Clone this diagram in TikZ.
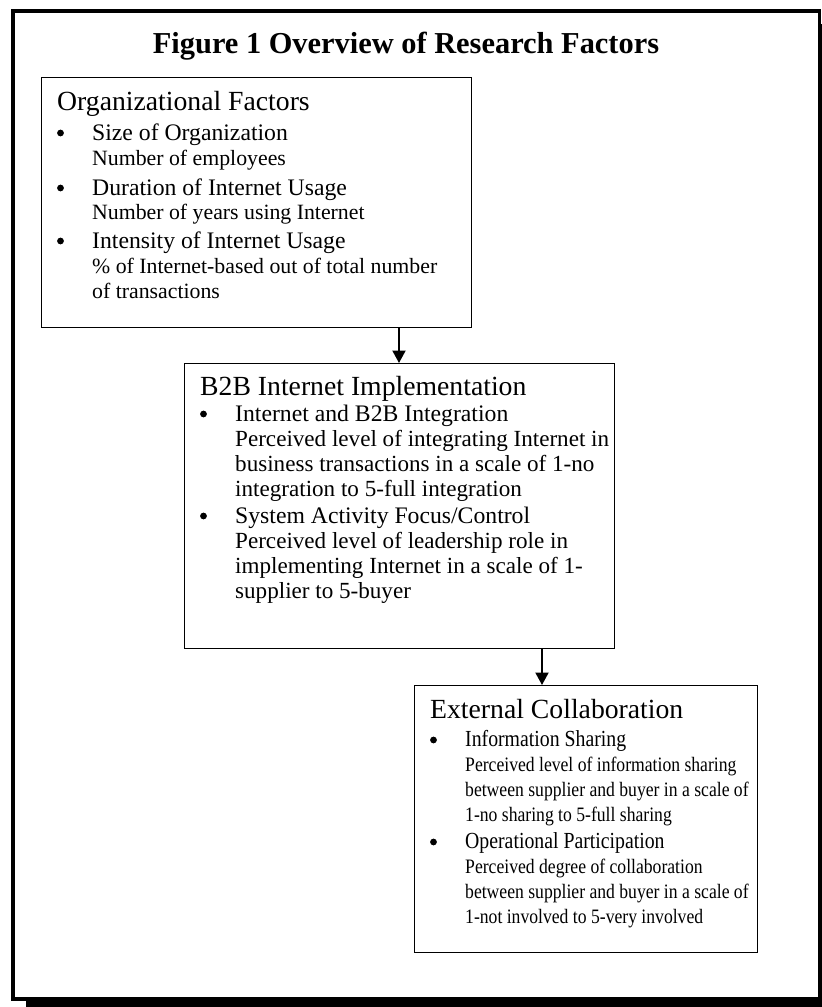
\documentclass[tikz,border=0pt]{standalone}
\usepackage{fontspec}
\setmainfont{Liberation Serif}
\newfontfamily\narrowserif[FakeStretch=0.86]{Liberation Serif}
\usetikzlibrary{arrows.meta}
\begin{document}
\begin{tikzpicture}[x=1pt,y=-1pt,
  factorbox/.style={draw=black,line width=1.3pt,fill=white},
  heading/.style={anchor=base west,inner sep=0pt,font=\fontsize{27.7}{30}\selectfont},
  itemline/.style={anchor=base west,inner sep=0pt,font=\fontsize{23.7}{26}\selectfont},
  noteline/.style={anchor=base west,inner sep=0pt,font=\fontsize{21.8}{24}\selectfont},
  midnote/.style={anchor=base west,inner sep=0pt,font=\fontsize{23.1}{25}\selectfont},
  smallitem/.style={anchor=base west,inner sep=0pt,font=\narrowserif\fontsize{23}{25}\selectfont},
  smallnote/.style={anchor=base west,inner sep=0pt,font=\narrowserif\fontsize{20.5}{22}\selectfont},
  bulletdot/.style={circle,fill=black,inner sep=0pt,minimum size=6.8pt},
  flow/.style={line width=2pt,-{Triangle[width=13pt,length=12.5pt]}}]
\useasboundingbox (0,0) rectangle (822,1007);
% outer frame with shadow on the right and bottom
\fill[black] (819,24) rectangle (822,1007);
\fill[black] (26,998) rectangle (822,1007);
\draw[line width=3.5pt] (13,11) rectangle (819.5,999);
% title
\node[anchor=base,inner sep=0pt,font=\fontsize{30.4}{34}\selectfont\bfseries] (title) at (406,53) {Figure 1 Overview of Research Factors};
% boxes
\node[factorbox,anchor=north west,minimum width=430pt,minimum height=250pt,inner sep=0pt] (org) at (41,77) {};
\node[factorbox,anchor=north west,minimum width=430pt,minimum height=285pt,inner sep=0pt] (b2b) at (184,363) {};
\node[factorbox,anchor=north west,minimum width=343pt,minimum height=267pt,inner sep=0pt] (ext) at (414,685) {};
% connectors
\coordinate (a1s) at (399,327);
\coordinate (a1e) at (399,363);
\draw[flow] (a1s) -- (a1e);
\coordinate (a2s) at (542,648);
\coordinate (a2e) at (542,685);
\draw[flow] (a2s) -- (a2e);
% organizational factors
\node[heading] (orgh) at (57,110) {Organizational Factors};
\node[bulletdot] (ob1) at (60.5,133) {};
\node[itemline] (o1) at (92,140) {Size of Organization};
\node[noteline] (o2) at (92,165) {Number of employees};
\node[bulletdot] (ob2) at (60.5,188) {};
\node[itemline] (o3) at (92,195) {Duration of Internet Usage};
\node[noteline] (o4) at (92,219) {Number of years using Internet};
\node[bulletdot] (ob3) at (60.5,241) {};
\node[itemline] (o5) at (92,248) {Intensity of Internet Usage};
\node[noteline] (o6) at (92,273) {\% of Internet-based out of total number};
\node[noteline] (o7) at (92,298) {of transactions};
% B2B internet implementation
\node[heading] (b2bh) at (200,395) {B2B Internet Implementation};
\node[bulletdot] (bb1) at (203.5,414) {};
\node[itemline] (b1) at (235,421) {Internet and B2B Integration};
\node[midnote] (b2) at (235,446) {Perceived level of integrating Internet in};
\node[midnote] (b3) at (235,471) {business transactions in a scale of 1-no};
\node[midnote] (b4) at (235,496) {integration to 5-full integration};
\node[bulletdot] (bb2) at (203.5,516) {};
\node[itemline] (b5) at (235,523) {System Activity Focus/Control};
\node[midnote] (b6) at (235,548) {Perceived level of leadership role in};
\node[midnote] (b7) at (235,573) {implementing Internet in a scale of 1-};
\node[midnote] (b8) at (235,598) {supplier to 5-buyer};
% external collaboration
\node[heading] (exth) at (430,718) {External Collaboration};
\node[bulletdot] (eb1) at (433.5,740) {};
\node[smallitem] (e1) at (465,746) {Information Sharing};
\node[smallnote] (e2) at (465,771) {Perceived level of information sharing};
\node[smallnote] (e3) at (465,796) {between supplier and buyer in a scale of};
\node[smallnote] (e4) at (465,821) {1-no sharing to 5-full sharing};
\node[bulletdot] (eb2) at (433.5,842) {};
\node[smallitem] (e5) at (465,848) {Operational Participation};
\node[smallnote] (e6) at (465,873) {Perceived degree of collaboration};
\node[smallnote] (e7) at (465,898) {between supplier and buyer in a scale of};
\node[smallnote] (e8) at (465,923) {1-not involved to 5-very involved};
\end{tikzpicture}
\end{document}
